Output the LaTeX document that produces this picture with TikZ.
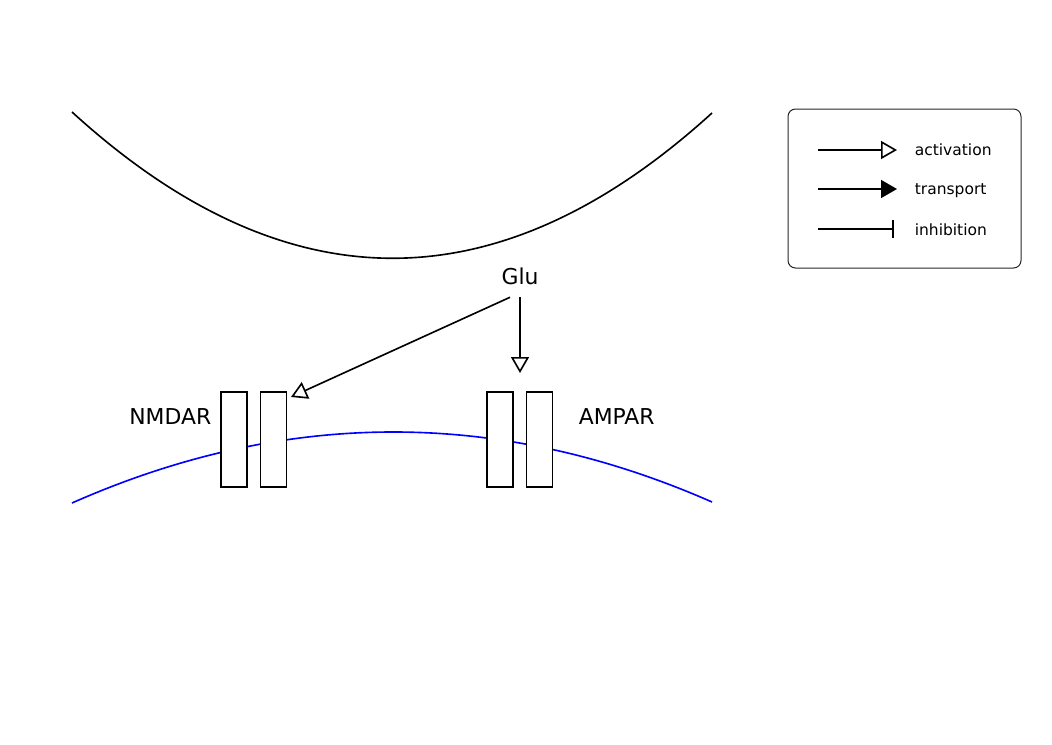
\documentclass[tikz,border=0pt]{standalone}
\usepackage{fontspec}
\setmainfont{DejaVu Sans}
\usetikzlibrary{positioning, arrows.meta}
\tikzstyle{channel} = [rectangle, minimum width=20.8pt, minimum height=76pt, inner sep=0pt, draw=black, fill=white]
\tikzstyle{bigtext} = [font=\fontsize{17.5}{21}\selectfont, inner sep=0pt]
\tikzstyle{legendtext} = [font=\fontsize{12.4}{15}\selectfont, inner sep=0pt, anchor=base west]
\tikzstyle{activation} = [-{Triangle[open, length=12.8pt, width=14.4pt]}]
\tikzstyle{transport} = [-{Triangle[length=12.8pt, width=14.4pt]}]
\tikzstyle{inhibition} = [-{Bar[width=14.4pt]}]

\begin{document}
\begin{tikzpicture}[x=0.8pt, y=-0.8pt, node distance=9.6pt, line width=1.3pt]
        \useasboundingbox (0,0) rectangle (1052,744);
        % membranes
        \draw (72,112) .. controls (285.3,306.7) and (498.7,307) .. (712,113);
        \draw[blue] (72,503) .. controls (285.3,408.7) and (498.7,408.3) .. (712,502);

        \node (nmdar1) [channel] at (234,439.5) {};
        \node (nmdar2) [channel, right=of nmdar1] {};
        \node (ampar1) [channel] at (500,439.5) {};
        \node (ampar2) [channel, right=of ampar1] {};
        \node (nmdarlbl) [bigtext, anchor=east] at (212,417) {NMDAR};
        \node (amparlbl) [bigtext, anchor=west] at (578,417) {AMPAR};

        \node (glu) [bigtext, inner ysep=9.6pt] at (520,276) {Glu};
        \coordinate (nmdartip) at (291,397);
        \coordinate (ampartip) at (520,373);
        \draw[activation] ([xshift=-8pt]glu.south) -- (nmdartip);
        \draw[activation] (glu.south) -- (ampartip);

        % legend
        \node (legend) [draw=black!85, line width=0.8pt, rounded corners=6pt, minimum width=186.4pt, minimum height=127.2pt] at (904.5,188.5) {};
        \node (acttext) [legendtext] at (914,155) {activation};
        \node (trtext) [legendtext] at (914,194.3) {transport};
        \node (inhtext) [legendtext] at (914,235) {inhibition};
        \coordinate (actA) at (818,150);
        \coordinate (actB) at (897,150);
        \coordinate (trA) at (818,189);
        \coordinate (trB) at (897,189);
        \coordinate (inhA) at (818,229);
        \coordinate (inhB) at (894,229);
        \draw[activation] (actA) -- (actB);
        \draw[transport] (trA) -- (trB);
        \draw[inhibition] (inhA) -- (inhB);
    \end{tikzpicture}
\end{document}
